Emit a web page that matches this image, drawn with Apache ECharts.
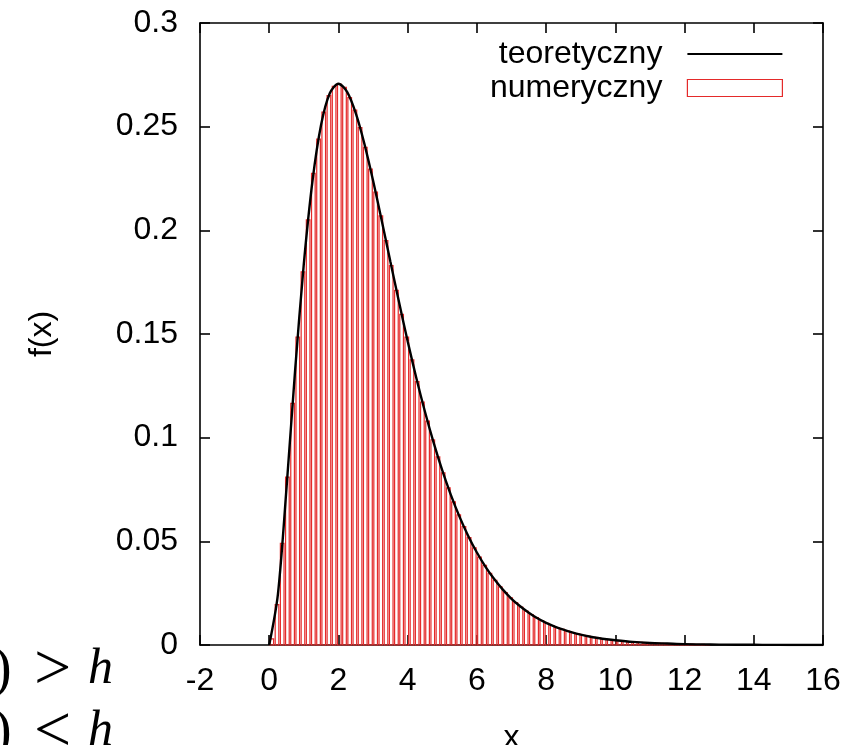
<!DOCTYPE html>
<html>
<head>
<meta charset="utf-8">
<script src="https://cdn.jsdelivr.net/npm/echarts@6/dist/echarts.min.js"></script>
<style>
html,body{margin:0;padding:0;background:#fff;}
#chart{width:865px;height:745px;}
</style>
</head>
<body>
<div id="chart"></div>
<script>
// ---- data ----
var xTicks = [-2, 0, 2, 4, 6, 8, 10, 12, 14, 16];
var yTicks = [0, 0.05, 0.1, 0.15, 0.2, 0.25, 0.3];
var seriesNames = ['teoretyczny', 'numeryczny'];

// theoretical curve
var curveX = [0, 0.25, 0.5, 0.75, 1, 1.25, 1.5, 1.75, 2, 2.25, 2.5, 2.75, 3, 3.25, 3.5, 3.75, 4, 4.25, 4.5, 4.75,
  5, 5.25, 5.5, 5.75, 6, 6.25, 6.5, 6.75, 7, 7.25, 7.5, 7.75, 8, 8.25, 8.5, 8.75, 9, 9.25, 9.5, 9.75,
  10, 10.5, 11, 11.5, 12, 12.5, 13, 13.5, 14, 14.5, 15, 16];
var curveY = [0, 0.0243, 0.0758, 0.1329, 0.1839, 0.2238, 0.2510, 0.2661, 0.2707, 0.2668, 0.2565, 0.2417, 0.2240, 0.2048, 0.1850, 0.1654, 0.1465, 0.1288, 0.1125, 0.0976,
  0.0842, 0.0723, 0.0618, 0.0526, 0.0446, 0.0377, 0.0318, 0.0267, 0.0223, 0.0187, 0.0156, 0.0129, 0.0107, 0.0089, 0.0074, 0.0061, 0.0050, 0.0041, 0.0034, 0.0028,
  0.0023, 0.0015, 0.0010, 0.0007, 0.0004, 0.0003, 0.0002, 0.0001, 0.0001, 0.00005, 0.00003, 0.00001];

// numerical histogram
var binStart = 0;
var binWidth = 0.15;
var histValues = [0.0030, 0.0195, 0.0490, 0.0810, 0.1165, 0.1485, 0.1800, 0.2050, 0.2275, 0.2440,
  0.2570, 0.2650, 0.2695, 0.2705, 0.2690, 0.2640, 0.2580, 0.2495, 0.2400, 0.2295,
  0.2185, 0.2070, 0.1950, 0.1830, 0.1710, 0.1595, 0.1485, 0.1375, 0.1270, 0.1172,
  0.1080, 0.0990, 0.0907, 0.0830, 0.0758, 0.0690, 0.0628, 0.0571, 0.0518, 0.0469,
  0.0424, 0.0384, 0.0346, 0.0312, 0.0281, 0.0253, 0.0228, 0.0204, 0.0183, 0.0164,
  0.0147, 0.0132, 0.0118, 0.0105, 0.0094, 0.0084, 0.0075, 0.0067, 0.0060, 0.0053,
  0.0047, 0.0042, 0.0037, 0.0033, 0.0029, 0.0026, 0.0023, 0.0021, 0.0018, 0.0016,
  0.0014, 0.0013, 0.0011, 0.0010, 0.0009, 0.0008, 0.0007, 0.0006, 0.0005, 0.0005,
  0.0004, 0.0004, 0.0003, 0.0003, 0.0002];

// ---- build ----
var curveData = curveX.map(function (x, i) { return [x, curveY[i]]; });
var histData = histValues.map(function (v, i) {
  return [binStart + i * binWidth, binStart + (i + 1) * binWidth, v];
});

var FONT = '"Liberation Sans", Arial, sans-serif';
var SERIF = '"Liberation Serif", "DejaVu Serif", serif';
var RED = '#e42a2a';
var FS = 32;

var chart = echarts.init(document.getElementById('chart'), null, {renderer: 'canvas'});

var axisCommon = {
  axisLine: {show: true, onZero: false, lineStyle: {color: '#000', width: 1.6}},
  axisTick: {show: true, inside: true, length: 10, lineStyle: {color: '#000', width: 1.6}},
  splitLine: {show: false}
};

function mk(base, extra) {
  var o = JSON.parse(JSON.stringify(base));
  for (var k in extra) o[k] = extra[k];
  return o;
}

var option = {
  animation: false,
  backgroundColor: '#fff',
  grid: {left: 200, right: 42, top: 23, bottom: 100, containLabel: false, outerBoundsMode: 'none'},
  legend: {
    orient: 'vertical',
    right: 77,
    top: 33,
    align: 'right',
    itemWidth: 95,
    itemHeight: 17,
    itemGap: 2,
    textStyle: {fontSize: FS, fontFamily: FONT, color: '#000', padding: [0, 20, 0, 0]},
    data: [
      {name: seriesNames[0], icon: 'path://M0,0 L100,0 L100,2 L0,2 Z', itemStyle: {color: '#000'}},
      {name: seriesNames[1], icon: 'rect', itemStyle: {color: '#fff', borderColor: RED, borderWidth: 1.2}}
    ]
  },
  xAxis: [
    mk(axisCommon, {type: 'value', min: xTicks[0], max: xTicks[xTicks.length - 1], interval: 2, position: 'bottom',
      axisLabel: {show: true, fontSize: FS, fontFamily: FONT, color: '#000', margin: 20},
      name: 'x', nameLocation: 'middle', nameGap: 77, nameTextStyle: {fontSize: FS, fontFamily: FONT, color: '#000'}}),
    mk(axisCommon, {type: 'value', min: xTicks[0], max: xTicks[xTicks.length - 1], interval: 2, position: 'top',
      axisLabel: {show: false}})
  ],
  yAxis: [
    mk(axisCommon, {type: 'value', min: yTicks[0], max: yTicks[yTicks.length - 1], interval: 0.05, position: 'left',
      axisLabel: {show: true, fontSize: FS, fontFamily: FONT, color: '#000', margin: 22},
      name: 'f(x)', nameLocation: 'middle', nameRotate: 90, nameGap: 142, nameTextStyle: {fontSize: FS, fontFamily: FONT, color: '#000'}}),
    mk(axisCommon, {type: 'value', min: yTicks[0], max: yTicks[yTicks.length - 1], interval: 0.05, position: 'right',
      axisLabel: {show: false}})
  ],
  series: [
    {
      name: seriesNames[1],
      type: 'custom',
      xAxisIndex: 0, yAxisIndex: 0,
      itemStyle: {color: '#fff', borderColor: RED, borderWidth: 1},
      encode: {x: [0, 1], y: 2},
      renderItem: function (params, api) {
        var x0 = api.value(0), x1 = api.value(1), v = api.value(2);
        var pTop = api.coord([x0, v]);
        var pBot = api.coord([x1, 0]);
        var w = pBot[0] - pTop[0];
        var inset = w * 0.15;
        return {
          type: 'rect',
          shape: {x: pTop[0] + inset, y: pTop[1], width: w - 2 * inset, height: pBot[1] - pTop[1]},
          style: {fill: 'rgba(255,255,255,0)', stroke: RED, lineWidth: 1.2}
        };
      },
      data: histData,
      z: 2
    },
    {
      name: seriesNames[0],
      type: 'line',
      xAxisIndex: 0, yAxisIndex: 0,
      data: curveData,
      symbol: 'none',
      smooth: 0.3,
      lineStyle: {color: '#000', width: 2.4},
      itemStyle: {color: '#000'},
      z: 3
    }
  ],
  graphic: [
    {type: 'text', x: -7, y: 671, style: {text: ')', font: '56px ' + SERIF, fill: '#000', verticalAlign: 'middle'}},
    {type: 'text', x: 34, y: 672, style: {text: '>', font: '66px ' + SERIF, fill: '#000', verticalAlign: 'middle'}},
    {type: 'text', x: 88, y: 670, style: {text: 'h', font: 'italic 50px ' + SERIF, fill: '#000', verticalAlign: 'middle'}},
    {type: 'text', x: -7, y: 733, style: {text: ')', font: '56px ' + SERIF, fill: '#000', verticalAlign: 'middle'}},
    {type: 'text', x: 34, y: 734, style: {text: '<', font: '66px ' + SERIF, fill: '#000', verticalAlign: 'middle'}},
    {type: 'text', x: 88, y: 732, style: {text: 'h', font: 'italic 50px ' + SERIF, fill: '#000', verticalAlign: 'middle'}}
  ]
};

chart.setOption(option);
</script>
</body>
</html>
